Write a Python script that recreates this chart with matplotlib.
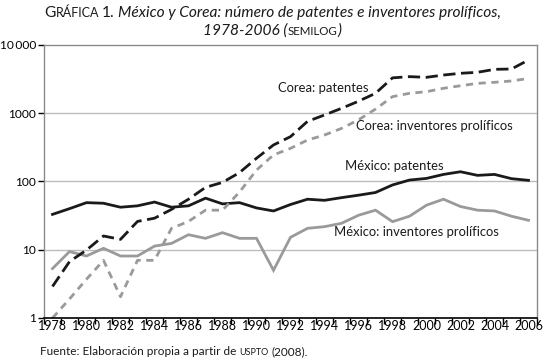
import numpy as np
import matplotlib
matplotlib.use("Agg")
import matplotlib.pyplot as plt

plt.rcParams['font.family'] = ['Lato', 'DejaVu Sans']

# --- Data ---
years = list(range(1978, 2007))
corea_patentes = [2.9, 6.7, 9.9, 15.9, 14.2, 26, 29, 39, 55, 82, 97, 135, 219, 343, 454,
                  760, 943, 1180, 1500, 1960, 3300, 3440, 3360, 3630, 3850, 3980, 4400, 4450, 6030]
corea_inventores = [1.0, 1.9, 3.7, 7.0, 2.05, 7.0, 7.0, 20.6, 26, 38, 38, 70, 147, 245, 306,
                    405, 480, 600, 800, 1150, 1750, 1960, 2070, 2320, 2530, 2740, 2840, 2970, 3240]
mexico_patentes = [33, 40, 49, 48, 42, 44, 50, 42, 44, 57, 47, 49, 41, 37, 46,
                   55, 53, 58, 63, 69, 89, 105, 111, 127, 139, 123, 127, 110, 104]
mexico_inventores = [5.3, 9.4, 8.1, 10.5, 8.1, 8.1, 11.3, 12.4, 16.6, 14.7, 17.8, 14.7, 14.7, 5.0, 15.2,
                     20.6, 21.8, 24.4, 32, 38, 25.8, 31, 45, 55, 43, 38, 37, 31, 27]
ytick_vals = [1, 10, 100, 1000, 10000]
ytick_labels = ["1", "10", "100", "1000", "10\u2009000"]
xtick_years = list(range(1978, 2007, 2))

W, H = 545, 363
fig = plt.figure(figsize=(W / 100, H / 100), dpi=100)
ax = fig.add_axes([44 / W, 1 - 318 / H, 493 / W, 273 / H])

GRAY = "#9a9a9a"
ax.plot(years, mexico_inventores, color=GRAY, lw=2.0, solid_joinstyle="miter")
ax.plot(years, mexico_patentes, color="#1a1a1a", lw=2.0)
ax.plot(years, corea_inventores, color=GRAY, lw=2.0, dashes=(2.6, 2.0))
ax.plot(years, corea_patentes, color="#1a1a1a", lw=2.0, dashes=(4.4, 2.0))

ax.set_yscale("log")
ax.set_ylim(1, 10000)
ax.set_xlim(1977.5, 2006.5)

ax.set_yticks(ytick_vals)
ax.set_yticklabels(ytick_labels)
ax.yaxis.set_minor_locator(matplotlib.ticker.NullLocator())
ax.tick_params(axis="y", which="major", length=4, width=1, direction="out",
               labelsize=8.6, pad=1.5, color="black")

# ticks at category boundaries, labels at every other year
ax.set_xticks(np.arange(1977.5, 2007, 1.0))
ax.set_xticklabels([])
ax.set_xticks(xtick_years, minor=True)
ax.set_xticklabels([str(y) for y in xtick_years], minor=True)
ax.tick_params(axis="x", which="major", length=4, width=1, direction="out", color="black")
ax.tick_params(axis="x", which="minor", length=0, labelsize=9, pad=1.5)

for v in [10, 100, 1000]:
    ax.axhline(v, color="#bdbdbd", lw=1, zorder=0)

for side in ["left", "top", "right"]:
    ax.spines[side].set_color("#8a8a8a")
    ax.spines[side].set_linewidth(1)
ax.spines["bottom"].set_color("black")
ax.spines["bottom"].set_linewidth(1.2)

# series labels
lab_kw = dict(transform=ax.transAxes, fontsize=9.4, va="center", ha="left", color="#1a1a1a")
ax.text(0.475, 0.842, "Corea: patentes", **lab_kw)
ax.text(0.633, 0.705, "Corea: inventores prolíficos", **lab_kw)
ax.text(0.611, 0.557, "México: patentes", **lab_kw)
ax.text(0.588, 0.315, "México: inventores prolíficos", **lab_kw)

# --- Title and source with small caps pieces ---
renderer = fig.canvas.get_renderer()


def rich_line(pieces, x, y, ha="center"):
    # pieces: (text, fontsize, style, gap_after_px)
    texts = []
    total = 0
    for s, fs, st, gap in pieces:
        t = fig.text(0, y, s, fontsize=fs, style=st, va="baseline", color="#1a1a1a")
        w = t.get_window_extent(renderer).width
        texts.append((t, w, gap))
        total += w + gap
    x0 = x * W - total / 2 if ha == "center" else x * W
    for t, w, gap in texts:
        t.set_x(x0 / W)
        x0 += w + gap


rich_line([("G", 11.2, "normal", 0), ("RÁFICA", 9, "normal", 3), ("1.", 11.2, "normal", 3),
           ("México y Corea: número de patentes e inventores prolíficos,", 11.2, "italic", 0)],
          0.5, 1 - 17 / H)
rich_line([("1978-2006 (", 11.2, "italic", 0), ("SEMILOG", 8.3, "normal", 0), (")", 11.2, "italic", 0)],
          0.5, 1 - 35 / H)
rich_line([("Fuente: Elaboración propia a partir de", 8.5, "normal", 3), ("USPTO", 6.5, "normal", 3),
           ("(2008).", 8.5, "normal", 0)], 40 / W, 1 - 355 / H, ha="left")

fig.savefig("out.png", dpi=100)
plt.close()
